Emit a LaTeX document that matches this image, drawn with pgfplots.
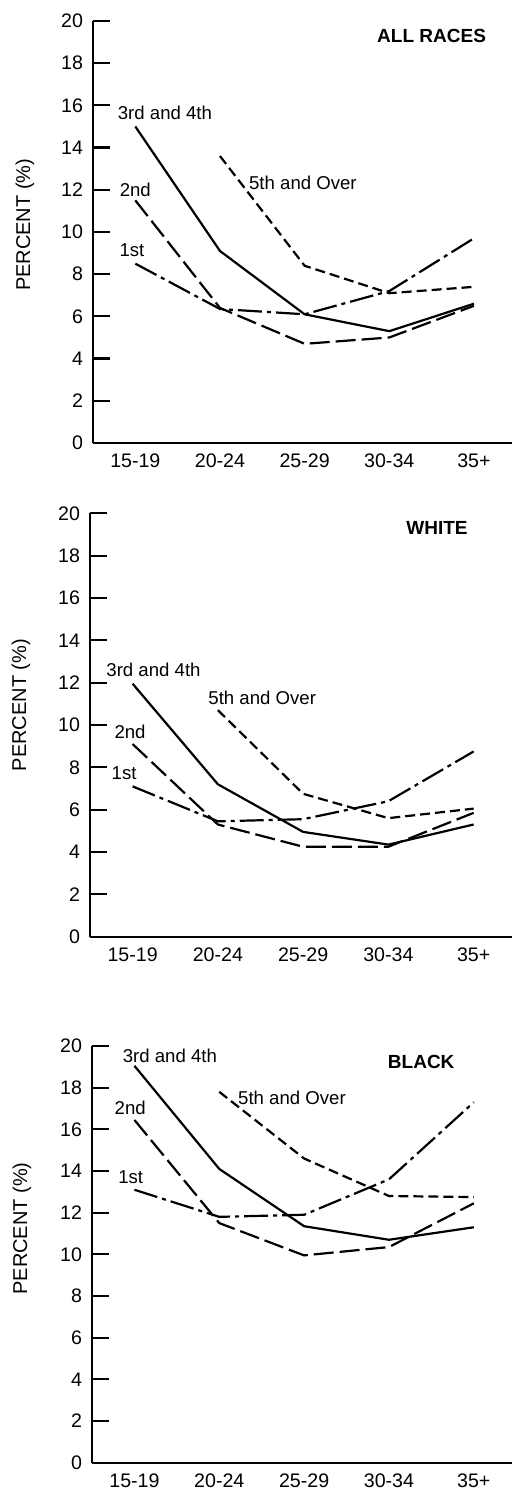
\documentclass[border=0pt]{standalone}
\usepackage{fontspec}
\setmainfont{Liberation Sans}
\usepackage{pgfplots}
\pgfplotsset{compat=1.18}
\pgfplotsset{
  panel/.style={
    scale only axis,
    axis lines*=left,
    axis line style={line width=1.1pt},
    anchor=south west,
    xmin=-0.5, xmax=4.45,
    ymin=0, ymax=20,
    ytick={0,2,...,20},
    xtick={0,1,2,3,4},
    xticklabels={15-19,20-24,25-29,30-34,35+},
    minor xtick={0.5,1.5,2.5,3.5},
    xtick style={draw=none},
    tick align=inside,
    major tick length=8.5pt,
    minor tick length=8.5pt,
    minor tick style={line width=1.1pt,black},
    ytick style={line width=1.1pt,black},
    tick label style={font=\fontsize{9.8}{11}\selectfont},
    xticklabel style={yshift=-2pt},
    yticklabel style={xshift=-1.5pt},
    /pgf/number format/assume math mode=true,
    clip=false,
    ylabel={PERCENT (\%)},
    ylabel style={font=\fontsize{10}{12}\selectfont},
  },
  s3/.style={black, line width=1.1pt},
  s2/.style={black, line width=1.1pt, dash pattern=on 10pt off 3pt},
  s1/.style={black, line width=1.1pt, dash pattern=on 12pt off 2.5pt on 2pt off 2.5pt},
  s5/.style={black, line width=1.1pt, dash pattern=on 5pt off 2.5pt},
}
\tikzset{
  lab/.style={font=\fontsize{9.3}{11}\selectfont, inner sep=0pt},
  ttl/.style={font=\bfseries\fontsize{9.5}{11}\selectfont, inner sep=0pt},
}
\begin{document}
\begin{tikzpicture}
\useasboundingbox (0,0) rectangle (256pt,748pt);
% ALL RACES
\begin{axis}[panel, at={(46.5pt,526.5pt)}, width=209.5pt, height=211pt,
  every axis y label/.style={at={(axis description cs:0,0.517)}, xshift=-34pt, rotate=90, anchor=center}]
\addplot[s3] coordinates {(0,15.0) (1,9.1) (2,6.1) (3,5.3) (4,6.6)};
\addplot[s2] coordinates {(0,11.5) (1,6.4) (2,4.7) (3,5.0) (4,6.5)};
\addplot[s1] coordinates {(0,8.5) (1,6.35) (2,6.1) (3,7.2) (4,9.7)};
\addplot[s5] coordinates {(1,13.6) (2,8.4) (3,7.1) (4,7.4)};
\node[lab] at (axis cs:0.35,15.64) {3rd and 4th};
\node[lab] at (axis cs:0.0,11.99) {2nd};
\node[lab] at (axis cs:-0.04,9.15) {1st};
\node[lab] at (axis cs:1.98,12.32) {5th and Over};
\node[ttl] at (axis cs:3.5,19.29) {ALL RACES};
\end{axis}
% WHITE
\begin{axis}[panel, at={(45pt,279.65pt)}, width=211pt, height=211.7pt,
  every axis y label/.style={at={(axis description cs:0,0.547)}, xshift=-34.5pt, rotate=90, anchor=center}]
\addplot[s3] coordinates {(0,11.95) (1,7.2) (2,4.95) (3,4.35) (4,5.3)};
\addplot[s2] coordinates {(0,9.1) (1,5.3) (2,4.25) (3,4.25) (4,5.85)};
\addplot[s1] coordinates {(0,7.1) (1,5.45) (2,5.55) (3,6.4) (4,8.75)};
\addplot[s5] coordinates {(1,10.7) (2,6.75) (3,5.6) (4,6.05)};
\node[lab] at (axis cs:0.245,12.6) {3rd and 4th};
\node[lab] at (axis cs:-0.03,9.67) {2nd};
\node[lab] at (axis cs:-0.1,7.73) {1st};
\node[lab] at (axis cs:1.52,11.28) {5th and Over};
\node[ttl] at (axis cs:3.57,19.3) {WHITE};
\end{axis}
% BLACK
\begin{axis}[panel, at={(46pt,16.65pt)}, width=210pt, height=208.35pt,
  every axis y label/.style={at={(axis description cs:0,0.562)}, xshift=-35pt, rotate=90, anchor=center}]
\addplot[s3] coordinates {(0,19.05) (1,14.1) (2,11.35) (3,10.7) (4,11.3)};
\addplot[s2] coordinates {(0,16.45) (1,11.5) (2,9.95) (3,10.35) (4,12.45)};
\addplot[s1] coordinates {(0,13.1) (1,11.8) (2,11.9) (3,13.6) (4,17.3)};
\addplot[s5] coordinates {(1,17.8) (2,14.6) (3,12.8) (4,12.75)};
\node[lab] at (axis cs:0.418,19.52) {3rd and 4th};
\node[lab] at (axis cs:-0.05,17.02) {2nd};
\node[lab] at (axis cs:-0.044,13.7) {1st};
\node[lab] at (axis cs:1.857,17.5) {5th and Over};
\node[ttl] at (axis cs:3.38,19.22) {BLACK};
\end{axis}
\end{tikzpicture}
\end{document}
